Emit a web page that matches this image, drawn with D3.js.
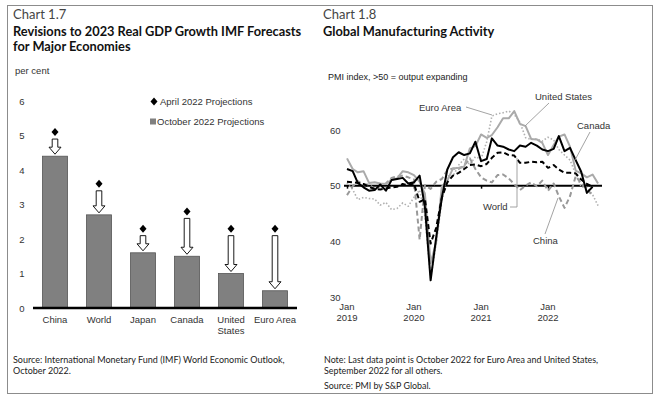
<!DOCTYPE html>
<html>
<head>
<meta charset="utf-8">
<script src="https://cdn.jsdelivr.net/npm/d3@7"></script>
<style>
  body { margin: 0; background: #fff; }
  svg text { font-family: "Liberation Sans", Arial, sans-serif; }
  .ttl { font-family: Lato, "Open Sans", sans-serif !important; }
</style>
</head>
<body>
<div id="chart"></div>
<script>
// Chart 1.7 data
var economies = ["China", "World", "Japan", "Canada", "United States", "Euro Area"];
var aprilProj = [5.1, 3.6, 2.3, 2.8, 2.3, 2.3];
var octoberProj = [4.4, 2.7, 1.6, 1.5, 1.0, 0.5];
var gdpTicks = [0, 1, 2, 3, 4, 5, 6];

// Chart 1.8 data, monthly from Jan 2019
var pmiStart = new Date(2019, 0, 1);
var pmiCanada = [53.0, 52.6, 50.5, 49.7, 49.1, 49.2, 50.2, 49.1, 51.0, 51.2, 51.4, 50.4,
                 50.6, 51.8, 46.1, 33.0, 40.6, 47.8, 52.9, 55.1, 56.0, 55.5, 55.8, 57.9,
                 54.4, 54.8, 58.5, 57.2, 57.0, 56.5, 56.2, 57.2, 57.0, 57.7, 57.2, 56.5,
                 56.2, 56.6, 58.9, 56.2, 56.8, 54.6, 52.5, 48.7, 49.8];
var pmiUS = [54.9, 53.0, 52.4, 52.6, 50.5, 50.6, 50.4, 50.3, 51.1, 51.3, 52.6, 52.4,
             51.9, 50.7, 48.5, 36.1, 39.8, 49.8, 50.9, 53.1, 53.2, 53.4, 56.7, 57.1,
             59.2, 58.6, 59.1, 60.5, 62.1, 62.1, 63.4, 61.1, 60.7, 58.4, 58.3, 57.7,
             55.5, 57.3, 58.8, 59.2, 57.0, 52.7, 52.2, 51.5, 52.0, 50.4];
var pmiEuro = [50.5, 49.3, 47.5, 47.9, 47.7, 47.6, 46.5, 47.0, 45.7, 45.9, 46.9, 46.3,
               47.9, 49.2, 44.5, 33.4, 39.4, 47.4, 51.8, 51.7, 53.7, 54.8, 53.8, 55.2,
               54.8, 57.9, 62.5, 62.9, 63.1, 63.4, 62.8, 61.4, 58.6, 58.3, 58.4, 58.0,
               58.7, 58.2, 56.5, 55.5, 54.6, 52.1, 49.8, 49.6, 48.4, 46.4];
var pmiWorld = [50.7, 50.6, 50.5, 50.3, 49.8, 49.4, 49.3, 49.5, 49.7, 49.8, 50.3, 50.1,
                50.4, 47.1, 47.6, 39.6, 42.4, 47.8, 50.6, 51.8, 52.3, 53.0, 53.7, 53.8,
                53.5, 53.9, 55.0, 55.9, 56.0, 55.5, 55.4, 54.1, 54.1, 54.3, 54.2, 54.3,
                53.2, 53.7, 52.9, 52.3, 52.3, 52.2, 51.1, 50.3, 49.8];
var pmiChina = [48.3, 49.9, 50.8, 50.2, 50.2, 49.4, 49.9, 50.4, 51.4, 51.7, 51.8, 51.5,
                51.1, 40.3, 50.1, 49.4, 50.7, 51.2, 52.8, 53.1, 53.0, 53.6, 54.9, 53.0,
                51.5, 50.9, 50.6, 51.9, 52.0, 51.3, 50.3, 49.2, 50.0, 50.6, 49.9, 50.9,
                49.1, 50.4, 48.1, 46.0, 48.1, 51.7, 50.4, 49.5, 48.1];
var pmiTicks = [30, 40, 50, 60];
var yearTicks = [2019, 2020, 2021, 2022];

var W = 660, H = 402;
var svg = d3.select("#chart").append("svg")
    .attr("width", W)
    .attr("height", H);

// frame
svg.append("rect")
    .attr("x", 7.5).attr("y", 5.5)
    .attr("width", 645).attr("height", 388)
    .attr("fill", "none")
    .attr("stroke", "#8c8c8c");

// ---------- titles ----------
function titles(x, num, lines) {
    svg.append("text").attr("class", "ttl")
        .attr("x", x).attr("y", 19)
        .attr("font-size", 13).attr("fill", "#444")
        .text(num);
    lines.forEach(function (l, i) {
        svg.append("text").attr("class", "ttl")
            .attr("x", x).attr("y", 36 + i * 15)
            .attr("font-size", 12.8).attr("font-weight", "bold").attr("fill", "#111")
            .text(l);
    });
}
titles(13, "Chart 1.7", ["Revisions to 2023 Real GDP Growth IMF Forecasts", "for Major Economies"]);
titles(323, "Chart 1.8", ["Global Manufacturing Activity"]);

// ---------- Chart 1.7 ----------
var x = d3.scaleBand()
    .domain(economies)
    .range([33, 297])
    .paddingInner(0.43)
    .paddingOuter(0.215);
var y = d3.scaleLinear()
    .domain([0, 6])
    .range([308, 101]);

svg.append("text")
    .attr("x", 15).attr("y", 74)
    .attr("font-size", 9.5).attr("fill", "#333")
    .text("per cent");

svg.selectAll(".gtick")
    .data(gdpTicks)
    .enter().append("text")
    .attr("class", "gtick")
    .attr("x", 22).attr("y", function (d) { return y(d) + 3.5; })
    .attr("text-anchor", "middle")
    .attr("font-size", 9.5).attr("fill", "#333")
    .text(function (d) { return d; });

svg.selectAll(".bar")
    .data(economies)
    .enter().append("rect")
    .attr("class", "bar")
    .attr("x", function (d) { return x(d); })
    .attr("y", function (d, i) { return y(octoberProj[i]); })
    .attr("width", x.bandwidth())
    .attr("height", function (d, i) { return y(0) - y(octoberProj[i]); })
    .attr("fill", "#808080")
    .attr("stroke", "#555")
    .attr("stroke-width", 0.8);

svg.append("line")
    .attr("x1", 33).attr("x2", 297)
    .attr("y1", y(0)).attr("y2", y(0))
    .attr("stroke", "#000").attr("stroke-width", 2.5);

var diamond = "M0,-4L3.5,0L0,4L-3.5,0Z";

svg.selectAll(".apr")
    .data(economies)
    .enter().append("path")
    .attr("class", "apr")
    .attr("d", diamond)
    .attr("transform", function (d, i) {
        return "translate(" + (x(d) + x.bandwidth() / 2) + "," + y(aprilProj[i]) + ")";
    })
    .attr("fill", "#000");

// arrows from April to October projection
svg.selectAll(".arrow")
    .data(economies)
    .enter().append("path")
    .attr("class", "arrow")
    .attr("d", function (d, i) {
        var cx = x(d) + x.bandwidth() / 2;
        var y0 = y(aprilProj[i]) + 7;
        var y1 = y(octoberProj[i]) - 2;
        var hy = y1 - 7;
        return "M" + (cx - 2.8) + "," + y0 + "L" + (cx + 2.8) + "," + y0 +
            "L" + (cx + 2.8) + "," + hy + "L" + (cx + 6) + "," + hy +
            "L" + cx + "," + y1 + "L" + (cx - 6) + "," + hy +
            "L" + (cx - 2.8) + "," + hy + "Z";
    })
    .attr("fill", "#fff")
    .attr("stroke", "#000")
    .attr("stroke-width", 0.9);

svg.selectAll(".clab")
    .data(economies)
    .enter().append("text")
    .attr("class", "clab")
    .attr("x", function (d) { return x(d) + x.bandwidth() / 2; })
    .attr("y", 323)
    .attr("text-anchor", "middle")
    .attr("font-size", 9.5).attr("fill", "#333")
    .each(function (d) {
        var parts = d === "United States" ? ["United", "States"] : [d];
        var t = d3.select(this);
        parts.forEach(function (p, j) {
            t.append("tspan")
                .attr("x", t.attr("x"))
                .attr("dy", j === 0 ? 0 : 10.5)
                .text(p);
        });
    });

// legend
svg.append("path").attr("d", diamond)
    .attr("transform", "translate(154,101.5)").attr("fill", "#000");
svg.append("text")
    .attr("x", 160).attr("y", 104.5)
    .attr("font-size", 9.5).attr("fill", "#333")
    .text("April 2022 Projections");
svg.append("rect")
    .attr("x", 150).attr("y", 118.5).attr("width", 6).attr("height", 6)
    .attr("fill", "#808080");
svg.append("text")
    .attr("x", 157).attr("y", 124.5)
    .attr("font-size", 9.5).attr("fill", "#333")
    .text("October 2022 Projections");

svg.append("text").attr("class", "ttl")
    .attr("x", 13).attr("y", 363)
    .attr("font-size", 9).attr("fill", "#222")
    .text("Source: International Monetary Fund (IMF) World Economic Outlook,");
svg.append("text").attr("class", "ttl")
    .attr("x", 13).attr("y", 374)
    .attr("font-size", 9).attr("fill", "#222")
    .text("October 2022.");

// ---------- Chart 1.8 ----------
function monthDate(i) { return d3.timeMonth.offset(pmiStart, i); }

var xt = d3.scaleTime()
    .domain([new Date(2019, 0, 1), new Date(2022, 0, 1)])
    .range([347, 548]);
var yp = d3.scaleLinear()
    .domain([30, 60])
    .range([297, 130]);

svg.append("text")
    .attr("x", 328).attr("y", 80)
    .attr("font-size", 9).attr("fill", "#222")
    .text("PMI index, >50 = output expanding");

svg.selectAll(".ptick")
    .data(pmiTicks)
    .enter().append("text")
    .attr("class", "ptick")
    .attr("x", 330).attr("y", function (d) { return yp(d) + 3.5; })
    .attr("font-size", 9.5).attr("fill", "#333")
    .text(function (d) { return d; });

svg.selectAll(".ytick")
    .data(yearTicks)
    .enter().append("text")
    .attr("class", "ytick")
    .attr("x", function (d) { return xt(new Date(d, 0, 1)); })
    .attr("y", 310)
    .attr("text-anchor", "middle")
    .attr("font-size", 9.5).attr("fill", "#333")
    .each(function (d) {
        var t = d3.select(this);
        t.append("tspan").attr("x", t.attr("x")).attr("dy", 0).text("Jan");
        t.append("tspan").attr("x", t.attr("x")).attr("dy", 10.5).text(d);
    });

// 50 reference axis
var axis50 = svg.append("g")
    .attr("transform", "translate(0," + yp(50) + ")")
    .call(d3.axisBottom(xt)
        .tickValues(yearTicks.map(function (d) { return new Date(d, 0, 1); }))
        .tickSize(3)
        .tickFormat(""));
axis50.select(".domain").remove();
axis50.selectAll(".tick line").attr("stroke", "#000").attr("stroke-width", 1.5);
svg.append("line")
    .attr("x1", 344).attr("x2", 602)
    .attr("y1", yp(50)).attr("y2", yp(50))
    .attr("stroke", "#000").attr("stroke-width", 2);

var line = d3.line()
    .x(function (d, i) { return xt(monthDate(i)); })
    .y(function (d) { return yp(d); });

var series = [
    {values: pmiEuro, color: "#b0b0b0", width: 1.6, dash: "1.5,2"},
    {values: pmiChina, color: "#999", width: 2, dash: "5,3"},
    {values: pmiUS, color: "#aaa", width: 2, dash: null},
    {values: pmiWorld, color: "#000", width: 2, dash: "5,3"},
    {values: pmiCanada, color: "#000", width: 2, dash: null}
];

svg.selectAll(".pmi")
    .data(series)
    .enter().append("path")
    .attr("class", "pmi")
    .attr("d", function (d) { return line(d.values); })
    .attr("fill", "none")
    .attr("stroke", function (d) { return d.color; })
    .attr("stroke-width", function (d) { return d.width; })
    .attr("stroke-dasharray", function (d) { return d.dash; })
    .attr("stroke-linejoin", "round");

// annotations
var notes = [
    {text: "Euro Area", tx: 419, ty: 111, pts: [[466, 107], [492, 115]]},
    {text: "United States", tx: 535, ty: 100, pts: [[549, 103], [525, 126]]},
    {text: "Canada", tx: 577, ty: 129, pts: [[590, 132], [575, 160]]},
    {text: "World", tx: 483, ty: 210, pts: [[510, 207], [517, 207], [517, 158]]},
    {text: "China", tx: 533, ty: 244, pts: [[545, 234], [558, 198]]}
];
notes.forEach(function (n) {
    svg.append("path")
        .attr("d", d3.line()(n.pts))
        .attr("fill", "none")
        .attr("stroke", "#999")
        .attr("stroke-width", 0.9);
    svg.append("text")
        .attr("x", n.tx).attr("y", n.ty)
        .attr("font-size", 9.5).attr("fill", "#333")
        .text(n.text);
});

svg.append("text").attr("class", "ttl")
    .attr("x", 324).attr("y", 363)
    .attr("font-size", 8.9).attr("fill", "#222")
    .text("Note: Last data point is October 2022 for Euro Area and United States,");
svg.append("text").attr("class", "ttl")
    .attr("x", 324).attr("y", 374)
    .attr("font-size", 8.9).attr("fill", "#222")
    .text("September 2022 for all others.");
svg.append("text").attr("class", "ttl")
    .attr("x", 324).attr("y", 389)
    .attr("font-size", 8.9).attr("fill", "#222")
    .text("Source: PMI by S&P Global.");
</script>
</body>
</html>
